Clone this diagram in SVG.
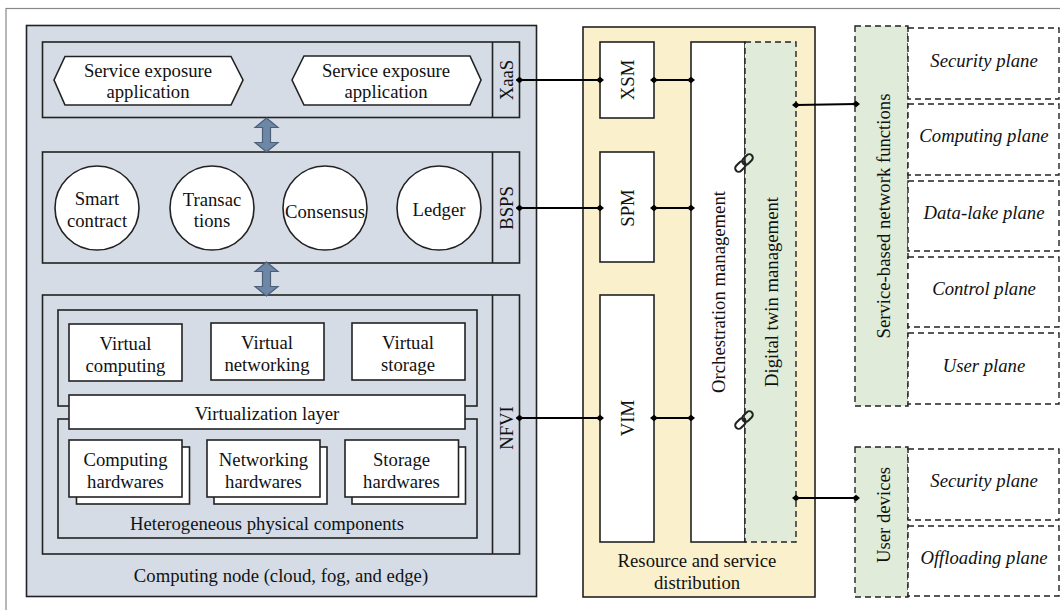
<svg xmlns="http://www.w3.org/2000/svg" width="1060" height="610" viewBox="0 0 1060 610">
<defs>
<style>
.t{font-family:"Liberation Serif","Times New Roman",serif;font-size:18.7px;fill:#111;text-anchor:middle;dominant-baseline:central}
.i{font-style:italic}
.box{fill:#fff;stroke:#222;stroke-width:1.6}
.layer{fill:#d5dce6;stroke:#222;stroke-width:1.6}
.dash{stroke:#222;stroke-width:1.4;stroke-dasharray:6,4}
.green{fill:#e0ecd9}
.conn{stroke:#000;stroke-width:2;fill:none;marker-start:url(#dm);marker-end:url(#dm)}
.arr{fill:#6f87a6;stroke:#4b5f7b;stroke-width:1.2}
</style>
<marker id="dm" viewBox="-5 -5 10 10" markerWidth="8" markerHeight="8" refX="0" refY="0" markerUnits="userSpaceOnUse" orient="auto">
<path d="M-5,0 L0,-4 L5,0 L0,4 Z" fill="#000"/>
</marker>
<path id="dbl" d="M0,0 L11.5,9.5 L4,9.5 L4,24.5 L11.5,24.5 L0,34 L-11.5,24.5 L-4,24.5 L-4,9.5 L-11.5,9.5 Z"/>
<g id="chain"><rect x="-3.5" y="-11" width="7" height="12" rx="3.5" fill="none" stroke="#222" stroke-width="2"/><rect x="-3.5" y="-1" width="7" height="12" rx="3.5" fill="none" stroke="#222" stroke-width="2"/></g>
</defs>
<rect x="6" y="8.5" width="1080" height="620" fill="#fff" stroke="#888" stroke-width="1.2"/>

<g id="computing-node">
<rect class="layer" x="26.5" y="25.5" width="510" height="571"/>
<text class="t" x="281" y="575">Computing node (cloud, fog, and edge)</text>
</g>

<g id="xaas">
<rect class="layer" x="42.5" y="42" width="477" height="75.5"/>
<line x1="492.5" y1="42" x2="492.5" y2="117.5" stroke="#222" stroke-width="1.6"/>
<text class="t" transform="translate(506,80) rotate(-90)">XaaS</text>
</g>
<g id="sea1">
<polygon class="box" points="54,80 65,56.5 231,56.5 243,80 231,105 65,105"/>
<text class="t" x="148" y="70">Service exposure</text>
<text class="t" x="148" y="91">application</text>
</g>
<g id="sea2">
<polygon class="box" points="292,80 304,56 470,56 481,80 470,105 304,105"/>
<text class="t" x="386" y="70">Service exposure</text>
<text class="t" x="386" y="91">application</text>
</g>

<g id="bsps">
<rect class="layer" x="42.5" y="152" width="477" height="111"/>
<line x1="492.5" y1="152" x2="492.5" y2="263" stroke="#222" stroke-width="1.6"/>
<text class="t" transform="translate(506,208) rotate(-90)">BSPS</text>
</g>
<g id="smart-contract"><circle class="box" cx="97" cy="208" r="42"/><text class="t" x="97" y="198">Smart</text><text class="t" x="97" y="220">contract</text></g>
<g id="transactions"><circle class="box" cx="212" cy="208" r="42"/><text class="t" x="212" y="199">Transac</text><text class="t" x="212" y="220">tions</text></g>
<g id="consensus"><circle class="box" cx="325" cy="208" r="42"/><text class="t" x="325" y="211">Consensus</text></g>
<g id="ledger"><circle class="box" cx="439" cy="208" r="42"/><text class="t" x="439" y="209">Ledger</text></g>

<g id="nfvi">
<rect class="layer" x="42.5" y="295" width="477" height="259"/>
<line x1="492.5" y1="295" x2="492.5" y2="554" stroke="#222" stroke-width="1.6"/>
<text class="t" transform="translate(506,428) rotate(-90)">NFVI</text>
<rect class="layer" x="58" y="310" width="419" height="96"/>
<rect class="layer" x="58" y="419" width="419" height="119"/>
<text class="t" x="267" y="523">Heterogeneous physical components</text>
</g>
<g id="virtualization-layer"><rect class="box" x="69" y="395" width="396" height="34"/><text class="t" x="267" y="413">Virtualization layer</text></g>
<g id="virtual-computing"><rect class="box" x="69" y="324" width="113" height="57"/><text class="t" x="125.5" y="343">Virtual</text><text class="t" x="125.5" y="365">computing</text></g>
<g id="virtual-networking"><rect class="box" x="211" y="323" width="113" height="57"/><text class="t" x="267" y="342">Virtual</text><text class="t" x="267" y="364">networking</text></g>
<g id="virtual-storage"><rect class="box" x="352" y="323" width="113" height="57"/><text class="t" x="408" y="342">Virtual</text><text class="t" x="408" y="364">storage</text></g>
<g id="computing-hw"><rect class="box" x="76.5" y="447" width="113" height="57"/><rect class="box" x="69" y="440" width="113" height="57"/><text class="t" x="125.5" y="459">Computing</text><text class="t" x="125.5" y="481">hardwares</text></g>
<g id="networking-hw"><rect class="box" x="214" y="447" width="113" height="57"/><rect class="box" x="207" y="440" width="113" height="57"/><text class="t" x="263.5" y="459">Networking</text><text class="t" x="263.5" y="481">hardwares</text></g>
<g id="storage-hw"><rect class="box" x="352" y="447" width="113.5" height="57"/><rect class="box" x="345" y="440" width="113.5" height="57"/><text class="t" x="401.5" y="459">Storage</text><text class="t" x="401.5" y="481">hardwares</text></g>

<g id="resource-distribution">
<rect x="583" y="27" width="232" height="570" fill="#faf0cb" stroke="#222" stroke-width="1.6"/>
<text class="t" x="697" y="560">Resource and service</text>
<text class="t" x="697" y="582">distribution</text>
</g>
<g id="xsm"><rect class="box" x="600" y="42" width="54" height="76"/><text class="t" transform="translate(627,80) rotate(-90)">XSM</text></g>
<g id="spm"><rect class="box" x="600" y="152" width="54" height="110"/><text class="t" transform="translate(627,208) rotate(-90)">SPM</text></g>
<g id="vim"><rect class="box" x="600" y="295" width="54" height="247"/><text class="t" transform="translate(627,418) rotate(-90)">VIM</text></g>
<g id="orchestration"><rect class="box" x="691" y="42" width="54" height="500"/><text class="t" transform="translate(718,292) rotate(-90)">Orchestration management</text></g>
<g id="digital-twin"><rect class="dash green" x="745" y="42" width="51" height="500"/><text class="t" transform="translate(771,292) rotate(-90)">Digital twin management</text></g>
<use href="#chain" transform="translate(744,163) rotate(45)"/>
<use href="#chain" transform="translate(744,420) rotate(45)"/>

<g id="sbnf">
<rect class="dash green" x="855" y="26" width="53" height="380"/>
<text class="t" transform="translate(883,216) rotate(-90)">Service-based network functions</text>
</g>
<g id="sbnf-security"><rect class="dash" fill="#fff" x="908" y="28" width="151" height="71"/><text class="t i" x="984" y="60">Security plane</text></g>
<g id="sbnf-computing"><rect class="dash" fill="#fff" x="908" y="104" width="151" height="71"/><text class="t i" x="984" y="135">Computing plane</text></g>
<g id="sbnf-datalake"><rect class="dash" fill="#fff" x="908" y="181" width="151" height="70"/><text class="t i" x="984" y="212">Data-lake plane</text></g>
<g id="sbnf-control"><rect class="dash" fill="#fff" x="908" y="257" width="151" height="70"/><text class="t i" x="984" y="288">Control plane</text></g>
<g id="sbnf-user"><rect class="dash" fill="#fff" x="908" y="333" width="151" height="71"/><text class="t i" x="984" y="365">User plane</text></g>

<g id="user-devices">
<rect class="dash green" x="855" y="447" width="53" height="150"/>
<text class="t" transform="translate(883,515) rotate(-90)">User devices</text>
</g>
<g id="ud-security"><rect class="dash" fill="#fff" x="908" y="449" width="151" height="71"/><text class="t i" x="984" y="480">Security plane</text></g>
<g id="ud-offloading"><rect class="dash" fill="#fff" x="908" y="526" width="151" height="70"/><text class="t i" x="984" y="557">Offloading plane</text></g>

<g id="connectors">
<use href="#dbl" class="arr" x="266.5" y="118"/>
<use href="#dbl" class="arr" x="266.5" y="262"/>
<line class="conn" x1="519.5" y1="80" x2="600" y2="80"/>
<line class="conn" x1="654" y1="80" x2="691" y2="80"/>
<line class="conn" x1="519.5" y1="208" x2="600" y2="208"/>
<line class="conn" x1="654" y1="208" x2="691" y2="208"/>
<line class="conn" x1="519.5" y1="418" x2="600" y2="418"/>
<line class="conn" x1="654" y1="418" x2="691" y2="418"/>
<line class="conn" x1="796" y1="105" x2="856" y2="104"/>
<line class="conn" x1="796" y1="498" x2="856" y2="498"/>
</g>
</svg>
